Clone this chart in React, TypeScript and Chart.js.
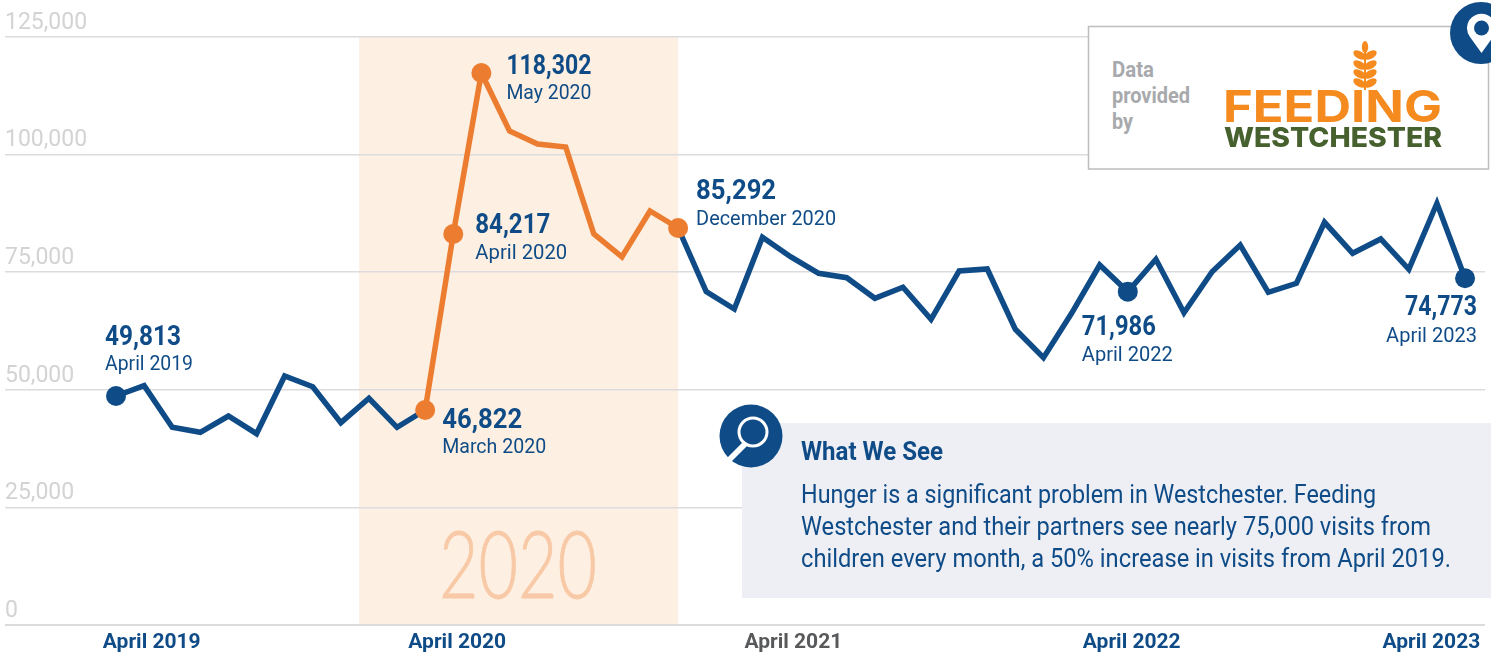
import React, { useEffect, useRef } from "react";
import Chart from "chart.js/auto";

const NAVY = "#0f4c87";
const ORANGE = "#ec7d30";
const GRID = "#dcdcdf";
const SANS = "Roboto, sans-serif";

const months: string[] = [
  "April 2019","May 2019","June 2019","July 2019","August 2019","September 2019","October 2019","November 2019","December 2019","January 2020","February 2020","March 2020",
  "April 2020","May 2020","June 2020","July 2020","August 2020","September 2020","October 2020","November 2020","December 2020","January 2021","February 2021","March 2021",
  "April 2021","May 2021","June 2021","July 2021","August 2021","September 2021","October 2021","November 2021","December 2021","January 2022","February 2022","March 2022",
  "April 2022","May 2022","June 2022","July 2022","August 2022","September 2022","October 2022","November 2022","December 2022","January 2023","February 2023","March 2023",
  "April 2023",
];
const visits: number[] = [
  48683,50873,42029,40966,44431,40669,52935,50660,43007,48194,42029,45707,
  83123,117350,105020,102256,101618,83123,78233,88012,84398,70857,67178,82421,
  78297,74768,73833,69453,71792,64989,75257,75682,62863,56825,66264,76532,
  70857,77744,66392,75108,80784,70729,72642,85610,79020,82060,75618,89649,
  73705,
];
const xTickLabels: string[] = ["April 2019", "April 2020", "April 2021", "April 2022", "April 2023"];
const xTickIndex: number[] = [1.27, 12.14, 24.1, 36.14, 46.8];
const highlightStart = 11;
const highlightEnd = 20;
const orangeMarkers: number[] = [11, 12, 13, 20];
const navyMarkers: number[] = [0, 36, 48];
const calloutIndex: number[] = [0, 11, 12, 13, 20, 36, 48];
const calloutValue: string[] = ["49,813", "46,822", "84,217", "118,302", "85,292", "71,986", "74,773"];
const calloutMonth: string[] = ["April 2019", "March 2020", "April 2020", "May 2020", "December 2020", "April 2022", "April 2023"];
const bandYear = "2020";

// pixel offsets of each callout relative to its marker: dx, value baseline dy, month baseline dy, widths
const calloutLayout = [
  { dx: -11, v: -51, m: -26, vw: 76, mw: 88, right: false },
  { dx: 17, v: 18, m: 43, vw: 80, mw: 104, right: false },
  { dx: 22, v: -1, m: 25, vw: 75, mw: 92, right: false },
  { dx: 25, v: 1, m: 26, vw: 85, mw: 85, right: false },
  { dx: 18, v: -29, m: -3, vw: 80, mw: 140, right: false },
  { dx: -46, v: 43, m: 69, vw: 74, mw: 91, right: false },
  { dx: 12, v: 37, m: 64, vw: 72, mw: 91, right: true },
];

const bandPlugin = {
  id: "band",
  beforeDraw(chart: any) {
    const { ctx, scales, chartArea } = chart;
    const x0 = scales.x.getPixelForValue(8.65);
    const x1 = scales.x.getPixelForValue(20);
    ctx.save();
    ctx.fillStyle = "#fdefe1";
    ctx.fillRect(x0, chartArea.top, x1 - x0, chartArea.bottom - chartArea.top);
    ctx.fillStyle = "#f8c9a6";
    ctx.strokeStyle = "#f8c9a6";
    ctx.lineWidth = 0.8;
    ctx.textBaseline = "alphabetic";
    ctx.textAlign = "left";
    ctx.font = '300 92px Lato, Roboto, sans-serif';
    ctx.fillText(bandYear, x0 + 80, chartArea.bottom - 27, 158);
    ctx.strokeText(bandYear, x0 + 80, chartArea.bottom - 27, 158);
    ctx.restore();
  },
};

const calloutPlugin = {
  id: "callouts",
  afterDatasetsDraw(chart: any) {
    const { ctx, scales } = chart;
    ctx.save();
    ctx.fillStyle = NAVY;
    ctx.textBaseline = "alphabetic";
    calloutIndex.forEach((idx, i) => {
      const l = calloutLayout[i];
      const px = scales.x.getPixelForValue(idx);
      const py = scales.y.getPixelForValue(visits[idx]);
      ctx.textAlign = l.right ? "right" : "left";
      ctx.font = `bold 28px ${SANS}`;
      ctx.fillText(calloutValue[i], px + l.dx, py + l.v, l.vw);
      ctx.font = `21px ${SANS}`;
      ctx.fillText(calloutMonth[i], px + l.dx, py + l.m, l.mw);
    });
    ctx.restore();
  },
};

function App() {
  const ref = useRef<HTMLCanvasElement | null>(null);
  useEffect(() => {
    const navyData = visits.map((v, i) => ({ x: i, y: i > highlightStart && i < highlightEnd ? null : v }));
    const orangeData = visits.map((v, i) => ({ x: i, y: i >= highlightStart && i <= highlightEnd ? v : null }));
    const chart = new Chart(ref.current as HTMLCanvasElement, {
      type: "line",
      data: {
        labels: months,
        datasets: [
          {
            label: "2020 surge",
            data: orangeData,
            borderColor: ORANGE,
            backgroundColor: ORANGE,
            borderWidth: 5.5,
            borderJoinStyle: "miter",
            pointRadius: (c: any) => (orangeMarkers.includes(c.dataIndex) ? 10 : 0),
            pointBackgroundColor: ORANGE,
            pointBorderWidth: 0,
            tension: 0,
          },
          {
            label: "Visits from children",
            data: navyData,
            borderColor: NAVY,
            backgroundColor: NAVY,
            borderWidth: 5.5,
            borderJoinStyle: "miter",
            pointRadius: (c: any) => (navyMarkers.includes(c.dataIndex) ? 10 : 0),
            pointBackgroundColor: NAVY,
            pointBorderWidth: 0,
            tension: 0,
          },
        ],
      } as any,
      options: {
        responsive: false,
        animation: false,
        events: [],
        layout: { autoPadding: false, padding: { left: 5, right: 6, top: 37, bottom: 0 } },
        plugins: { legend: { display: false }, tooltip: { enabled: false }, title: { display: false } },
        scales: {
          x: {
            type: "linear",
            min: -3.95,
            max: 48.71,
            grid: { display: false, drawTicks: false },
            border: { display: false },
            afterBuildTicks(axis: any) {
              axis.ticks = xTickIndex.map((value) => ({ value }));
            },
            afterFit(axis: any) {
              axis.height = 27;
              axis.paddingLeft = 0;
              axis.paddingRight = 0;
            },
            ticks: {
              autoSkip: false,
              maxRotation: 0,
              padding: 5,
              font: { family: SANS, size: 21, weight: "bold" },
              color: (c: any) => (c.index === 2 ? "#58595b" : NAVY),
              callback: (_v: any, i: number) => xTickLabels[i],
            },
          },
          y: {
            type: "linear",
            min: 0,
            max: 125000,
            afterFit(axis: any) {
              axis.width = 0;
            },
            border: { display: false },
            grid: {
              color: GRID,
              drawTicks: false,
              lineWidth: (c: any) => (c.tick && c.tick.value === 0 ? 2 : 1.5),
            },
            ticks: {
              stepSize: 25000,
              mirror: true,
              padding: 0,
              labelOffset: -14,
              color: "#d3d3d3",
              font: { family: SANS, size: 23 },
              callback: (v: any) => Number(v).toLocaleString("en-US"),
            },
          },
        },
      } as any,
      plugins: [bandPlugin, calloutPlugin],
    });
    return () => chart.destroy();
  }, []);

  const leaves = [55, 65, 74, 83];
  return (
    <div style={{ position: "absolute", left: 0, top: 0, width: 1491, height: 652, overflow: "hidden", background: "#fff" }}>
      <canvas ref={ref} width={1491} height={652} style={{ position: "absolute", left: 0, top: 0 }} />
      <svg width={1491} height={652} style={{ position: "absolute", left: 0, top: 0 }}>
        {/* data credit box */}
        <rect x={1088.5} y={26.5} width={400} height={142.5} fill="#fff" stroke="#bdbdbf" strokeWidth={1.5} />
        <g fill="#a8a9ad" fontFamily={SANS} fontWeight="bold" fontSize={22}>
          <text x={1112} y={77} textLength={42} lengthAdjust="spacingAndGlyphs">Data</text>
          <text x={1112} y={103} textLength={78} lengthAdjust="spacingAndGlyphs">provided</text>
          <text x={1112} y={129} textLength={21} lengthAdjust="spacingAndGlyphs">by</text>
        </g>
        <g fill="#f58a1f">
          <ellipse cx={1365} cy={47} rx={3.2} ry={6} />
          {leaves.map((y) => (
            <g key={y}>
              <ellipse cx={1359.5} cy={y} rx={6.8} ry={3.8} transform={`rotate(30 1359.5 ${y})`} />
              <ellipse cx={1370.5} cy={y} rx={6.8} ry={3.8} transform={`rotate(-30 1370.5 ${y})`} />
            </g>
          ))}
          <rect x={1364} y={50} width={2} height={40} />
        </g>
        <text x={1223} y={122} fill="#f58a1f" fontFamily="Inter, sans-serif" fontWeight={700} fontSize={44} textLength={219} lengthAdjust="spacingAndGlyphs">FEEDING</text>
        <text x={1224} y={147} fill="#46602e" fontFamily="Inter, sans-serif" fontWeight={800} fontSize={27} textLength={218} lengthAdjust="spacingAndGlyphs">WESTCHESTER</text>
        {/* location pin */}
        <circle cx={1481} cy={33} r={31} fill={NAVY} />
        <path d="M1481.5 53 L1470 37 A14.5 14.5 0 1 1 1493 37 Z" fill="#fff" />
        <circle cx={1481.5} cy={28} r={7.5} fill={NAVY} />
        {/* what we see panel */}
        <rect x={742} y={423} width={749} height={175} fill="#eeeff5" />
        <circle cx={751} cy={436} r={31.5} fill={NAVY} />
        <circle cx={753} cy={432} r={14} fill="none" stroke="#fff" strokeWidth={3} />
        <path d="M743 442 L726 459 L730 463 L747 446 Z" fill="#fff" />
        <text x={801} y={460} fill={NAVY} fontFamily={SANS} fontWeight="bold" fontSize={26} textLength={142} lengthAdjust="spacingAndGlyphs">What We See</text>
        <g fill={NAVY} fontFamily={SANS} fontSize={26}>
          <text x={801} y={503} textLength={575} lengthAdjust="spacingAndGlyphs">Hunger is a significant problem in Westchester. Feeding</text>
          <text x={801} y={535} textLength={630} lengthAdjust="spacingAndGlyphs">Westchester and their partners see nearly 75,000 visits from</text>
          <text x={801} y={567} textLength={650} lengthAdjust="spacingAndGlyphs">children every month, a 50% increase in visits from April 2019.</text>
        </g>
      </svg>
    </div>
  );
}

export default App;
